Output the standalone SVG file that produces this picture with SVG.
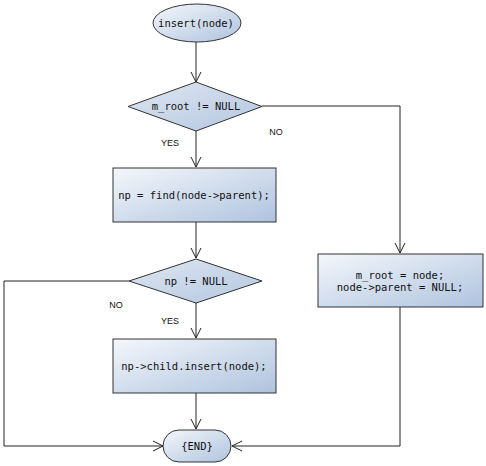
<svg xmlns="http://www.w3.org/2000/svg" width="486" height="466" viewBox="0 0 486 466">
<defs>
<linearGradient id="g" x1="0" y1="0" x2="1" y2="1">
<stop offset="0" stop-color="#f4f7fb"/>
<stop offset="1" stop-color="#afc3de"/>
</linearGradient>
<linearGradient id="gd" x1="0" y1="0" x2="1" y2="1">
<stop offset="0" stop-color="#dfe7f2"/>
<stop offset="1" stop-color="#b3c6df"/>
</linearGradient>
<marker id="a" markerWidth="14" markerHeight="14" refX="11" refY="6" orient="auto" markerUnits="userSpaceOnUse">
<path d="M1,1 L11,6 L1,11" fill="none" stroke="#222" stroke-width="1"/>
</marker>
<style>
.s{stroke:#333;stroke-width:1;fill:url(#g)}
.d{stroke:#333;stroke-width:1;fill:url(#gd)}
.c{fill:none;stroke:#222;stroke-width:1;marker-end:url(#a)}
.t{font-family:"DejaVu Sans Mono",monospace;font-size:10.5px;fill:#111;text-anchor:middle}
.l{font-family:"Liberation Sans",Arial,sans-serif;font-size:9px;fill:#111;text-anchor:middle}
</style>
</defs>
<g id="connectors">
<path class="c" d="M196,42 L196,82"/>
<path class="c" d="M196,131 L196,167"/>
<path class="c" d="M196,222 L196,258"/>
<path class="c" d="M196,303 L196,338"/>
<path class="c" d="M196,393 L196,429"/>
<path class="c" d="M262,106 L400,106 L400,253"/>
<path class="c" d="M129,281 L4,281 L4,446 L163,446"/>
<path class="c" d="M400,307 L400,446 L232,446"/>
</g>
<g id="labels">
<text class="l" x="170" y="146">YES</text>
<text class="l" x="276" y="135">NO</text>
<text class="l" x="116" y="308">NO</text>
<text class="l" x="170" y="324">YES</text>
</g>
<g id="start">
<ellipse class="s" cx="197" cy="23" rx="44" ry="19"/>
<text class="t" x="196" y="27">insert(node)</text>
</g>
<g id="cond1">
<polygon class="d" points="196,82 262,106.5 196,131 128,106.5"/>
<text class="t" x="196" y="110">m_root != NULL</text>
</g>
<g id="find">
<rect class="s" x="113" y="168" width="163" height="54"/>
<text class="t" x="194" y="199">np = find(node-&gt;parent);</text>
</g>
<g id="cond2">
<polygon class="d" points="196,259 262,281 196,303 129,281"/>
<text class="t" x="196" y="285">np != NULL</text>
</g>
<g id="insert">
<rect class="s" x="113" y="339" width="163" height="54"/>
<text class="t" x="194" y="370">np-&gt;child.insert(node);</text>
</g>
<g id="setroot">
<rect class="s" x="318" y="254" width="165" height="53"/>
<text class="t" x="400" y="279">m_root = node;</text>
<text class="t" x="400" y="291">node-&gt;parent = NULL;</text>
</g>
<g id="end">
<rect class="s" x="163" y="430" width="68" height="32" rx="16" ry="16"/>
<text class="t" x="197" y="450">{END}</text>
</g>
</svg>
